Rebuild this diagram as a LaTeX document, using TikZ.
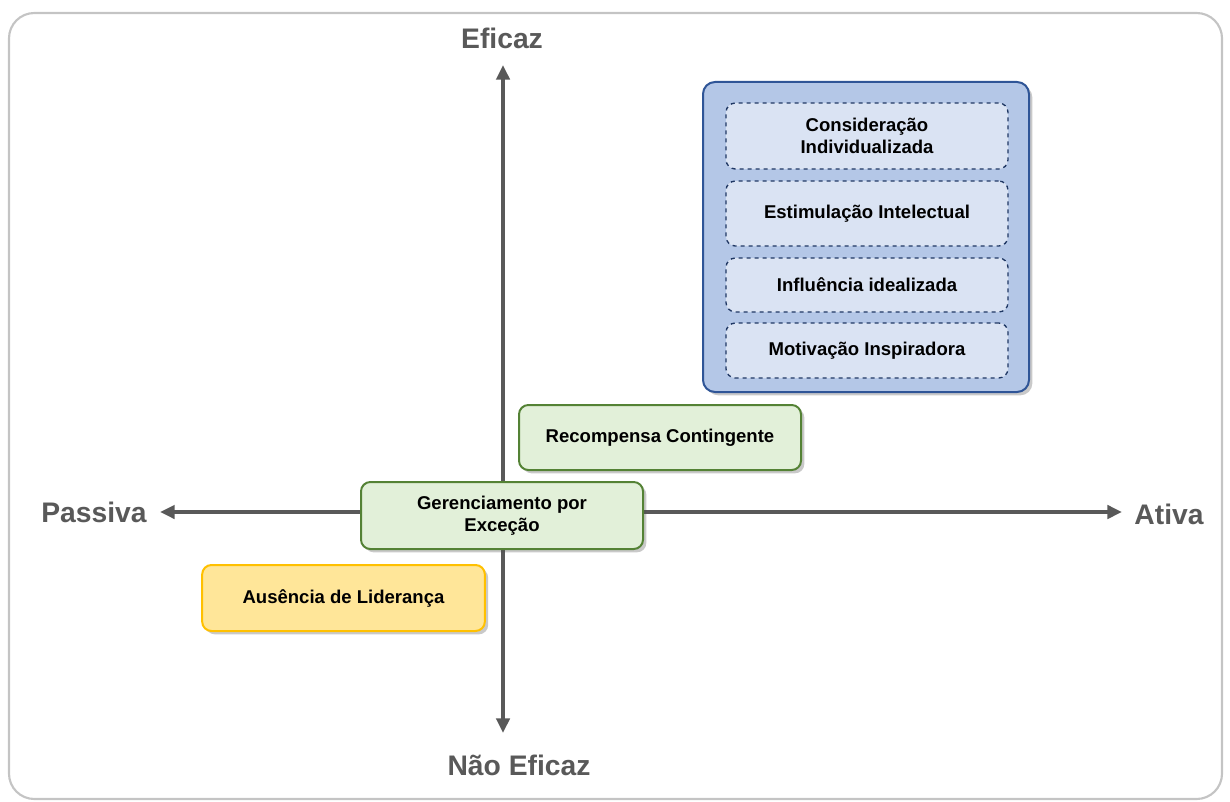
\documentclass[tikz,border=0pt]{standalone}
\usepackage{fontspec}
\setmainfont{Liberation Sans}
\usetikzlibrary{arrows.meta,shadows}

\definecolor{axgray}{HTML}{595959}
\definecolor{framegray}{HTML}{C4C4C4}
\definecolor{bfill}{HTML}{B4C7E7}
\definecolor{bline}{HTML}{2F5597}
\definecolor{bin}{HTML}{DAE3F3}
\definecolor{bdash}{HTML}{203864}
\definecolor{gfill}{HTML}{E2F0D9}
\definecolor{gline}{HTML}{548235}
\definecolor{yfill}{HTML}{FFE699}
\definecolor{yline}{HTML}{FFC000}
\tikzset{px/.style={x=0.75pt,y=-0.75pt}}
\tikzset{axis/.style={axgray,line width=2.6pt,{Triangle[length=11pt,width=10pt]}-{Triangle[length=11pt,width=10pt]}},
         axlabel/.style={text=axgray,font=\fontsize{21.2}{24}\selectfont\bfseries},
         shade box/.style={rounded corners=7pt,line width=1.5pt,align=center,
                           font=\fontsize{13.9}{16.5}\selectfont\bfseries,
                           drop shadow={shadow xshift=2.5pt,shadow yshift=-2.5pt,opacity=0.3,fill=black!70}},
         gbox/.style={shade box,fill=gfill,draw=gline,minimum width=211.5pt},
         ybox/.style={shade box,fill=yfill,draw=yline,minimum width=212pt,minimum height=49.5pt},
         ibox/.style={rounded corners=7pt,fill=bin,draw=bdash,dashed,line width=1pt,align=center,
                      minimum width=211.5pt,font=\fontsize{13.9}{16.5}\selectfont\bfseries}}

\begin{document}
\begin{tikzpicture}[px]
    \useasboundingbox (0,0) rectangle (1230,802);
    \draw[framegray,line width=1.6pt,rounded corners=19pt] (9,13) rectangle (1222,799);
    % axes
    \coordinate (top) at (503,65);
    \coordinate (bot) at (503,733);
    \coordinate (lft) at (160,512);
    \coordinate (rgt) at (1122,512);
    \draw[axis] (bot) -- (top);
    \draw[axis] (lft) -- (rgt);
    \node[axlabel] (efic) at (502,38) {Eficaz};
    \node[axlabel] (naoefic) at (519,765) {Não Eficaz};
    \node[axlabel] (pass) at (94,512) {Passiva};
    \node[axlabel] (ativ) at (1169,514) {Ativa};
    % transformacional
    \node[shade box,fill=bfill,draw=bline,rounded corners=9pt,minimum width=244.5pt,minimum height=232.5pt] (transf) at (866,237) {};
    \node[ibox,minimum height=49.5pt] (consid) at (867,136) {Consideração\\Individualizada};
    \node[ibox,minimum height=48.75pt] (estim) at (867,213.5) {Estimulação Intelectual};
    \node[ibox,minimum height=40.5pt] (influ) at (867,285) {Influência idealizada};
    \node[ibox,minimum height=41.25pt] (motiv) at (867,350.5) {Motivação Inspiradora};
    % transacional
    \node[gbox,minimum height=48.75pt] (recomp) at (660,437.5) {Recompensa Contingente};
    \node[gbox,minimum height=50.25pt] (gerenc) at (502,515.5) {Gerenciamento por\\Exceção};
    % laissez-faire
    \node[ybox] (ausen) at (343.5,598) {Ausência de Liderança};
\end{tikzpicture}
\end{document}
